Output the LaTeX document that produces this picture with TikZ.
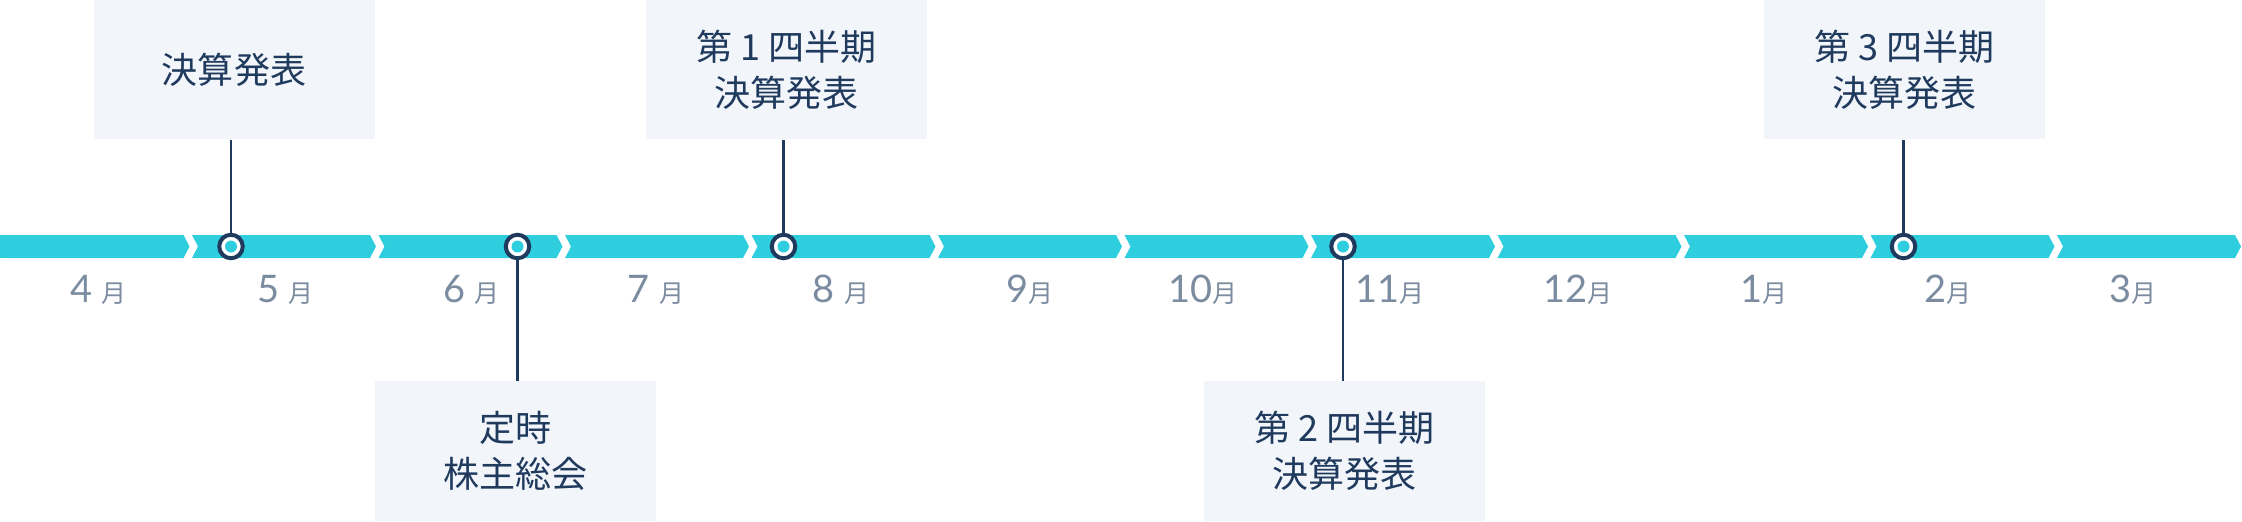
\documentclass[tikz,border=0pt]{standalone}
\usepackage{fontspec}
\newfontfamily\cjk{Noto Sans CJK JP}
\newfontfamily\latofont{Lato}
\newcommand\tsuki{\cjk\fontsize{14.2pt}{16pt}\selectfont}
\usetikzlibrary{positioning,calc}
\definecolor{barcyan}{RGB}{47,206,222}
\definecolor{navy}{RGB}{32,58,94}
\definecolor{boxbg}{RGB}{242,246,250}
\definecolor{monthgray}{RGB}{123,140,160}

\begin{document}
\begin{tikzpicture}[
  evbox/.style={fill=boxbg, minimum width=5.62cm, minimum height=2.79cm, inner sep=0pt,
               align=center, text=navy, font=\cjk\fontsize{20.5pt}{26pt}\selectfont},
  month/.style={anchor=base, inner sep=0pt, text=monthgray,
               font=\latofont\fontsize{21.6pt}{24pt}\selectfont},
  milestone/.style={circle, draw=navy, line width=0.08cm, fill=white,
               minimum size=0.47cm, inner sep=0pt},
  stem/.style={draw=navy, line width=0.05cm}
]
\useasboundingbox (0,-5.49) rectangle (44.84,4.93);

% the year as twelve chevrons
\foreach \k in {0,...,11}
  \fill[barcyan] ({0.11+3.73*\k},0.23) -- ++(3.56,0) -- ++(0.12,-0.23)
    -- ++(-0.12,-0.23) -- ++(-3.56,0) -- ++(0.12,0.23) -- cycle;
\fill[barcyan] (0,-0.23) rectangle (0.3,0.23);

% months
\foreach \x/\m [count=\i] in {1.97/4, 5.71/5, 9.43/6, 13.12/7, 16.82/8}
  \node[month] (m\i) at (\x,-1.12) {\m\ {\tsuki 月}};
\foreach \x/\m [count=\i from 6] in {20.59/9, 24.06/10, 27.79/11, 31.55/12, 35.28/1, 38.96/2, 42.66/3}
  \node[month] (m\i) at (\x,-1.12) {\m{\tsuki 月}};

% events
\node[evbox] (b1) at (4.68, 3.54) {決算発表};
\node[evbox] (b2) at (10.31, -4.09) {定時\\株主総会};
\node[evbox] (b3) at (15.73, 3.54) {第 1 四半期\\決算発表};
\node[evbox] (b4) at (26.89, -4.09) {第 2 四半期\\決算発表};
\node[evbox] (b5) at (38.09, 3.54) {第 3 四半期\\決算発表};

\node[milestone] (k1) at (4.62, 0) {};
\node[milestone] (k2) at (10.35, 0) {};
\node[milestone] (k3) at (15.67, 0) {};
\node[milestone] (k4) at (26.86, 0) {};
\node[milestone] (k5) at (38.07, 0) {};
\foreach \i in {1,...,5}
  \fill[barcyan] (k\i.center) circle (0.12);

\draw[stem] (k1.north) -- (k1.north |- b1.south);
\draw[stem] (k2.south) -- (k2.south |- b2.north);
\draw[stem] (k3.north) -- (k3.north |- b3.south);
\draw[stem] (k4.south) -- (k4.south |- b4.north);
\draw[stem] (k5.north) -- (k5.north |- b5.south);

\end{tikzpicture}
\end{document}
